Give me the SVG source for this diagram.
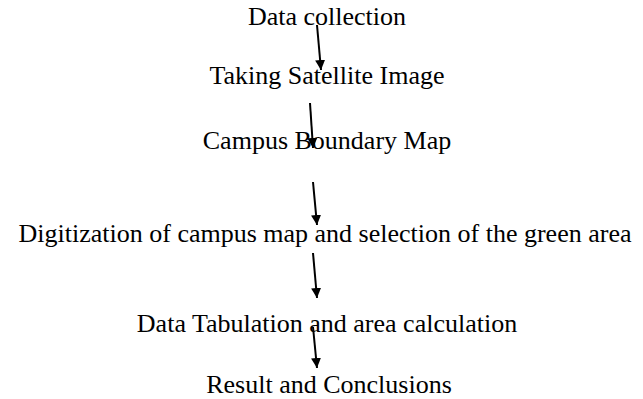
<svg xmlns="http://www.w3.org/2000/svg" width="643" height="399" viewBox="0 0 643 399">
<style>
text{font-family:"Liberation Serif","Times New Roman",serif;font-size:26px;fill:#000;text-anchor:middle}
.c line{stroke:#000;stroke-width:2;marker-end:url(#ah)}
</style>
<defs>
<marker id="ah" viewBox="0 0 10 10" refX="10" refY="5" markerWidth="5" markerHeight="5" orient="auto" markerUnits="strokeWidth">
<path d="M0,0 L10,5 L0,10 z" fill="#000"/>
</marker>
</defs>
<rect width="643" height="399" fill="#fff"/>
<g id="n1"><text x="327" y="25">Data collection</text></g>
<g id="n2"><text x="327" y="84">Taking Satellite Image</text></g>
<g id="n3"><text x="327" y="149">Campus Boundary Map</text></g>
<g id="n4"><text x="325" y="242">Digitization of campus map and selection of the green area</text></g>
<g id="n5"><text x="327" y="332">Data Tabulation and area calculation</text></g>
<g id="n6"><text x="329" y="393">Result and Conclusions</text></g>
<g class="c" id="connectors">
<line x1="317" y1="25" x2="321" y2="70"/>
<line x1="310" y1="103" x2="313" y2="148"/>
<line x1="313" y1="182" x2="317" y2="225"/>
<line x1="313" y1="253" x2="317" y2="298"/>
<line x1="313" y1="327" x2="317" y2="368"/>
</g>
</svg>
